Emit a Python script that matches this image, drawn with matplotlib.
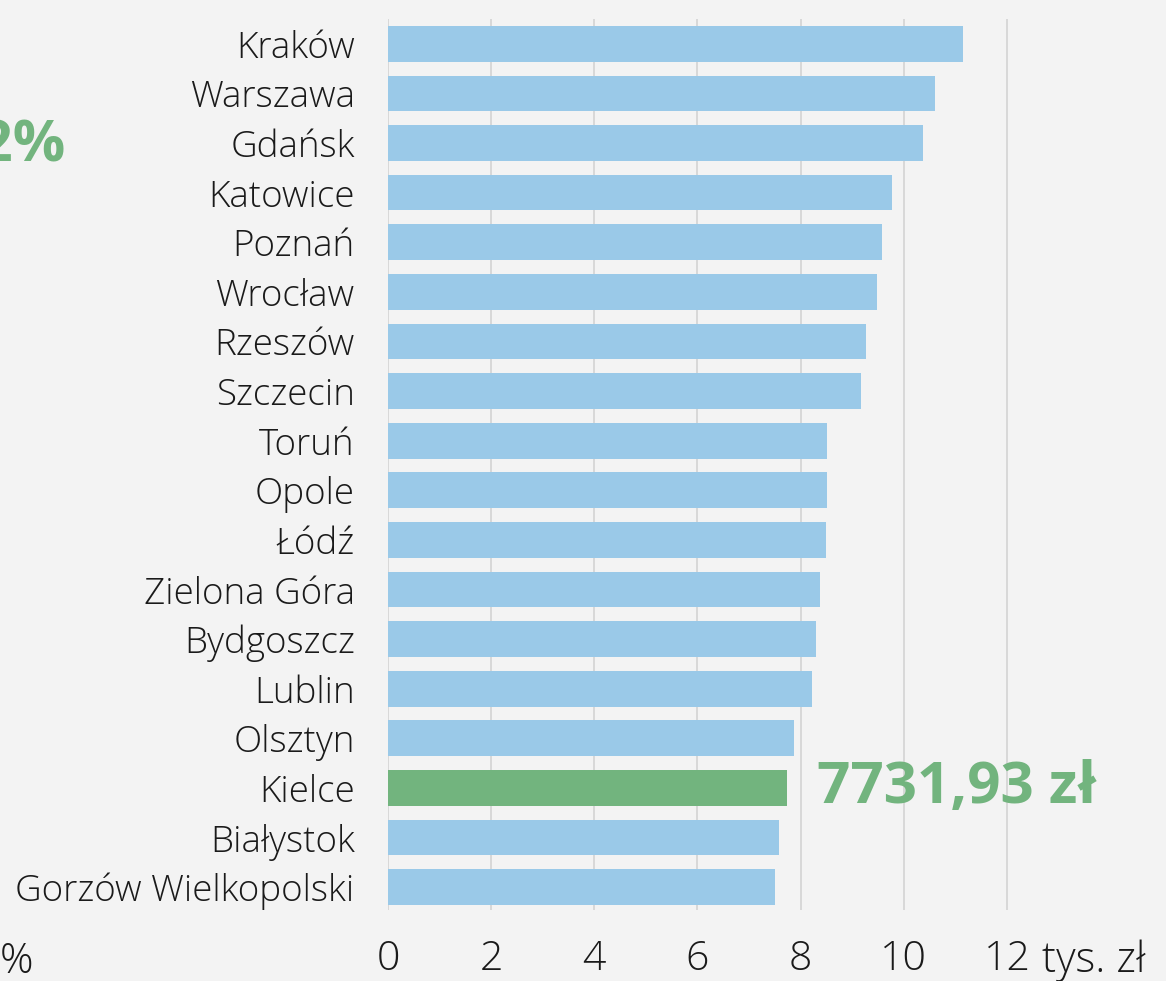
import numpy as np
import matplotlib.pyplot as plt

cities = ["Kraków", "Warszawa", "Gdańsk", "Katowice", "Poznań", "Wrocław",
          "Rzeszów", "Szczecin", "Toruń", "Opole", "Łódź", "Zielona Góra",
          "Bydgoszcz", "Lublin", "Olsztyn", "Kielce", "Białystok",
          "Gorzów Wielkopolski"]
salary = [11.15, 10.60, 10.37, 9.77, 9.58, 9.48, 9.27, 9.17, 8.51, 8.51,
          8.49, 8.38, 8.30, 8.22, 7.87, 7.73193, 7.58, 7.50]
highlight = "Kielce"
xticks = [0, 2, 4, 6, 8, 10, 12]

BG = "#f3f3f3"
BLUE = "#9ac9e8"
GREEN = "#72b47e"
TXT = "#1a1a1a"
LIGHT = dict(family=["Open Sans", "DejaVu Sans"], weight="light")
BOLD = dict(family=["Open Sans", "DejaVu Sans"], weight="bold")

fig = plt.figure(figsize=(11.66, 9.81), dpi=100, facecolor=BG)
ax = fig.add_axes([388 / 1166, 1 - 910 / 981, 1 - 388 / 1166, (910 - 19) / 981])
ax.set_facecolor(BG)

y = np.arange(len(cities))
colors = [GREEN if c == highlight else BLUE for c in cities]
ax.barh(y, salary, height=0.72, color=colors, zorder=3)

ax.set_xlim(0, (1166 - 388) / 51.58)
ax.set_ylim(len(cities) - 0.54, -0.5)
ax.set_xticks(xticks)
ax.set_xticklabels([str(t) for t in xticks], fontsize=29.5, color=TXT, **LIGHT)
ax.set_yticks(y)
ax.set_yticklabels(cities, fontsize=26.5, color=TXT, **LIGHT)
ax.tick_params(axis="x", length=0, pad=21)
ax.tick_params(axis="y", length=0, pad=24)
ax.grid(axis="x", color="#d6d6d6", linewidth=1.3, zorder=0)
for s in ax.spines.values():
    s.set_visible(False)

# unit after the last tick, on the same line as the tick labels
ax.annotate("tys. zł", xy=(xticks[-1], 0), xycoords=ax.get_xaxis_transform(),
            xytext=(25, -21), textcoords="offset points",
            ha="left", va="top", fontsize=30.5, color=TXT, **LIGHT)

# value of the highlighted bar
k = cities.index(highlight)
val = f"{salary[k] * 1000:.2f}".replace(".", ",") + " zł"
ax.text(salary[k] + 0.58, k, val, ha="left", va="center",
        fontsize=42, color=GREEN, **BOLD)

# pieces of the neighbouring panel cut off at the left edge
fig.text(66 / 1166, 1 - 147 / 981, "12%", ha="right", va="center",
         fontsize=42, color=GREEN, **BOLD)
fig.text(33 / 1166, 1 - 962 / 981, "%", ha="right", va="center",
         fontsize=30, color=TXT, **LIGHT)

fig.savefig("out.png", dpi=100, facecolor=BG)
